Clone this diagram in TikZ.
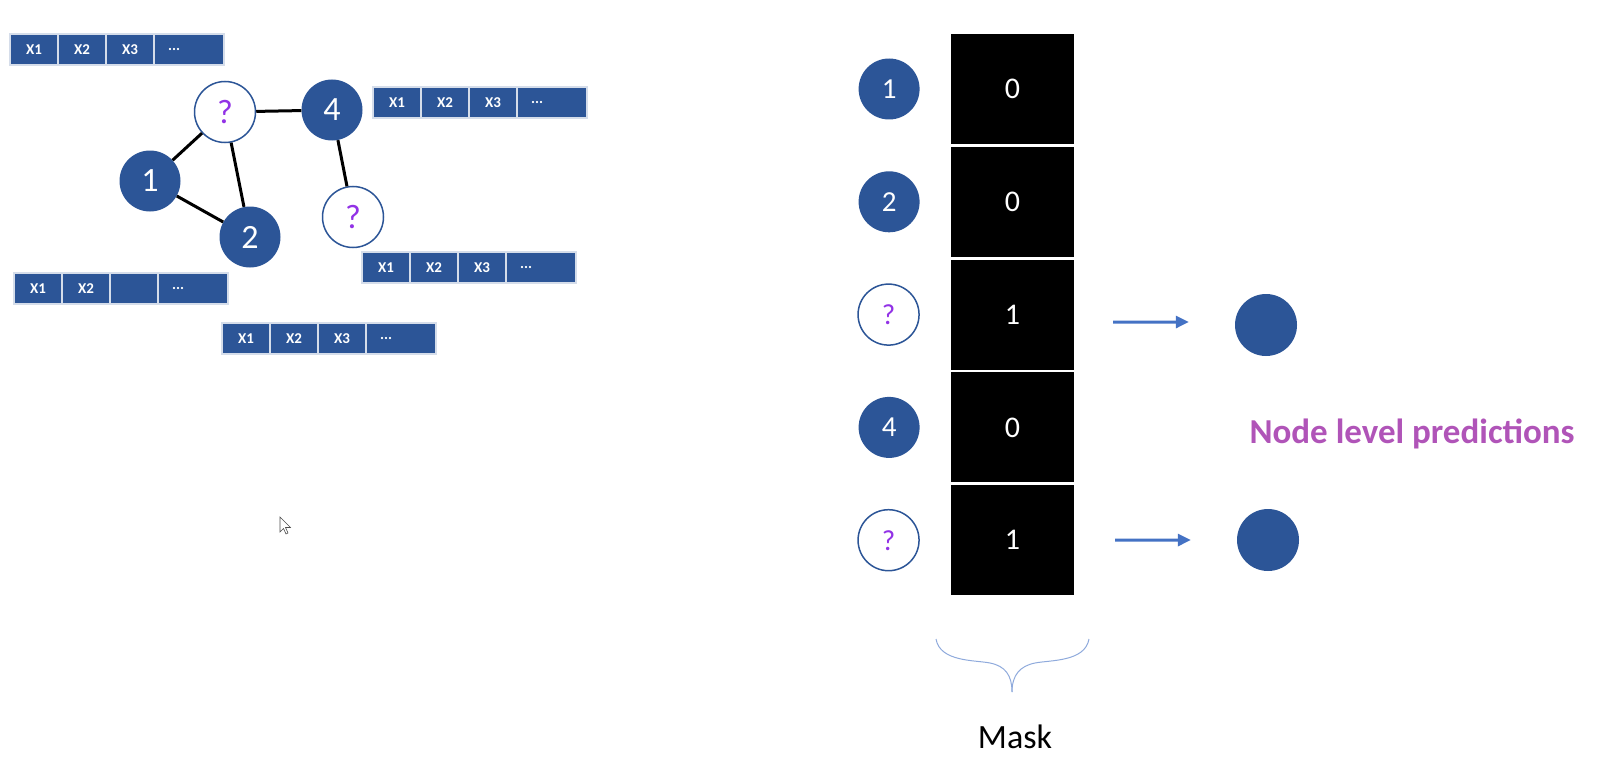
\documentclass[tikz,border=0pt]{standalone}
\usepackage{fontspec}
\setmainfont{Carlito}
\usetikzlibrary{positioning,arrows.meta}
\definecolor{nodeblue}{RGB}{44,85,151}
\definecolor{qviolet}{RGB}{146,50,230}
\definecolor{arrowblue}{RGB}{68,114,196}
\definecolor{bracecol}{RGB}{143,170,220}
\definecolor{predpurple}{RGB}{176,84,184}

\begin{document}
\begin{tikzpicture}[x=1pt,y=-1pt,
  gnode/.style={circle, fill=nodeblue, text=white, minimum size=61pt, inner sep=0pt, font=\fontsize{34}{36}\selectfont},
  qnode/.style={gnode, draw=nodeblue, line width=1.5pt, fill=white, text=qviolet},
  rnode/.style={gnode, font=\fontsize{29}{30}\selectfont},
  rqnode/.style={qnode, font=\fontsize{29}{30}\selectfont},
  pnode/.style={circle, fill=nodeblue, minimum size=62pt, inner sep=0pt},
  edge/.style={line width=3pt},
  cell/.style={rectangle, fill=nodeblue, draw=white!80!nodeblue, line width=1.2pt, outer sep=0pt, minimum width=48pt, minimum height=31pt, inner sep=0pt, text=white, font=\bfseries\fontsize{15}{16}\selectfont},
  lastcell/.style={cell, minimum width=70pt, text width=42pt, inner xsep=14pt, align=left},
  maskcell/.style={rectangle, fill=black, minimum width=123pt, minimum height=110pt, inner sep=0pt, text=white, font=\fontsize{30}{32}\selectfont},
  predarrow/.style={draw=arrowblue, line width=3pt, -{Triangle[length=13pt,width=12pt]}}
]
\useasboundingbox (0,0) rectangle (1600,773);

% graph with unknown nodes
\node[gnode] (g1) at (150,181) {1};
\node[gnode] (g2) at (250,237) {2};
\node[qnode] (g3) at (225,112) {?};
\node[gnode] (g4) at (332,110) {4};
\node[qnode] (g5) at (353,217) {?};
\draw[edge] (g3) -- (g4);
\draw[edge] (g3) -- (g1);
\draw[edge] (g3) -- (g2);
\draw[edge] (g1) -- (g2);
\draw[edge] (g4) -- (g5);

% feature vectors
\foreach \n/\px/\py/\lc in {fa/10/34/X3, fb/373/87/X3, fc/362/252/X3, fd/14/273/{}, fe/222/323/X3} {
  \node[cell, anchor=north west] (\n1) at (\px,\py) {X1};
  \node[cell, right=0pt of \n1] (\n2) {X2};
  \node[cell, right=0pt of \n2] (\n3) {\lc};
  \node[lastcell, right=0pt of \n3] (\n4) {...};
}

% mouse pointer
\draw[gray!60!black, fill=white, line width=0.6pt] (280,517) -- (280,532) -- (283.5,528.5) -- (286,534) -- (288,533) -- (285.5,527.5) -- (290.5,527.5) -- cycle;

% mask
\foreach \v [count=\i] in {0,0,1,0,1}
  \node[maskcell] (m\i) at (1012.5,{89+112.8*(\i-1)}) {\v};
\node[rnode, left=31pt of m1] (r1) {1};
\node[rnode, left=31pt of m2] (r2) {2};
\node[rqnode, left=31pt of m3] (r3) {?};
\node[rnode, left=31pt of m4] (r4) {4};
\node[rqnode, left=31pt of m5] (r5) {?};

% predictions
\node[pnode] (p1) at (1266,325) {};
\node[pnode] (p2) at (1268,540) {};
\draw[predarrow] ([xshift=39pt,yshift=-7.5pt]m3.east) -- ([xshift=-46pt,yshift=3pt]p1.west);
\draw[predarrow] ([xshift=41pt]m5.east) -- ([xshift=-46pt]p2.west);
\node[anchor=west, text=predpurple, font=\bfseries\fontsize{35}{38}\selectfont] (predlbl) at (1246,434) {Node level predictions};

% brace under the mask
\draw[bracecol, line width=1pt] (936,639) .. controls (940,662) and (975,660) .. (990,663) .. controls (1005,666) and (1012,675) .. (1012,692);
\draw[bracecol, line width=1pt] (1089,639) .. controls (1085,662) and (1050,660) .. (1035,663) .. controls (1020,666) and (1012,675) .. (1012,692);
\node[font=\fontsize{34}{36}\selectfont] (masklbl) at (1015,737) {Mask};
\end{tikzpicture}
\end{document}
